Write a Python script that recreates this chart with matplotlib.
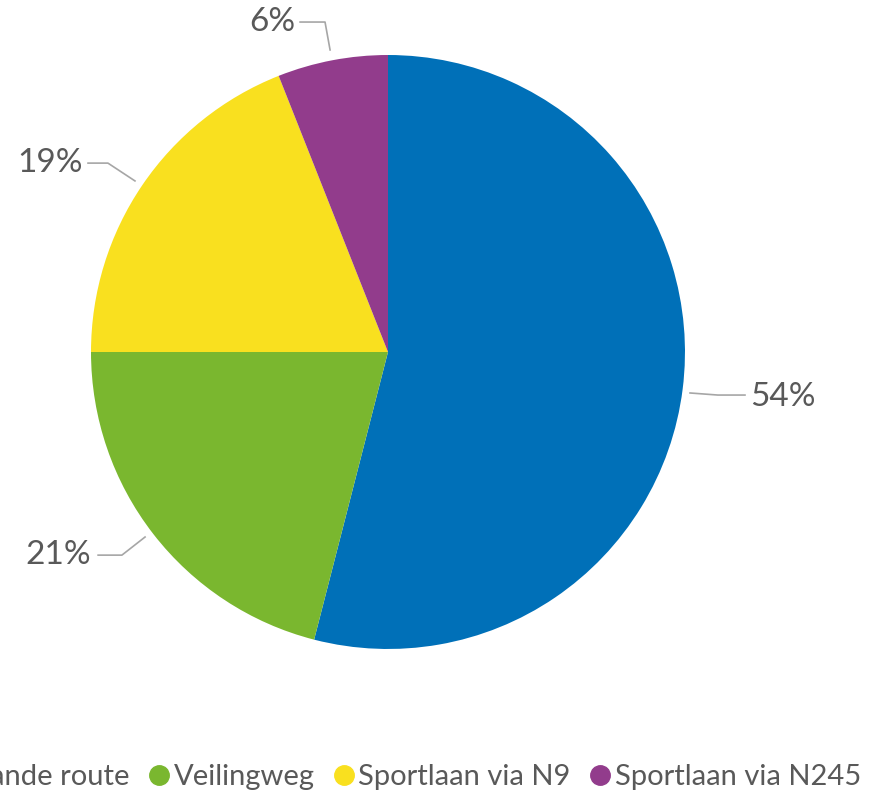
import matplotlib
matplotlib.use("Agg")
import matplotlib.pyplot as plt
from matplotlib.lines import Line2D

categories = ["Bestaande route", "Veilingweg", "Sportlaan via N9", "Sportlaan via N245"]
values = [54, 21, 19, 6]
colors = ["#0070B8", "#7AB72F", "#F9E01F", "#923C8C"]

# label placement (in pie-radius units): text position and leader polyline
label_pos = [(1.33, -0.152), (-1.111, -0.684), (-1.138, 0.636), (-0.391, 1.111)]
leaders = [
    [(1.017, -0.138), (1.111, -0.145), (1.202, -0.145)],
    [(-0.818, -0.623), (-0.896, -0.684), (-0.976, -0.684)],
    [(-0.852, 0.576), (-0.943, 0.636), (-1.010, 0.636)],
    [(-0.195, 1.017), (-0.212, 1.111), (-0.296, 1.111)],
]

plt.rcParams['font.family'] = ['Lato', 'DejaVu Sans']
text_color = "#595959"

fig = plt.figure(figsize=(8.8, 7.96), dpi=100)
ax = fig.add_axes([0.1034, 0.1847, 0.675, 0.7462])
wedges, _ = ax.pie(values, colors=colors, startangle=90, counterclock=False,
                   wedgeprops=dict(linewidth=0))
ax.set_xlim(-1, 1)
ax.set_ylim(-1, 1)
ax.set_aspect('equal')
ax.axis('off')

for v, (tx, ty), pts in zip(values, label_pos, leaders):
    xs = [p[0] for p in pts]
    ys = [p[1] for p in pts]
    ax.add_line(Line2D(xs, ys, color="#A6A6A6", lw=1.2, clip_on=False))
    ax.text(tx, ty, f"{v}%", ha='center', va='center', fontsize=24,
            color=text_color, fontweight='normal', clip_on=False)

handles = [Line2D([0], [0], marker='o', linestyle='none', markersize=14,
                  markerfacecolor=c, markeredgecolor=c) for c in colors]
fig.legend(handles, categories, loc='center right', bbox_to_anchor=(1.008, 0.024),
           ncol=4, frameon=False, labelcolor=text_color,
           handletextpad=0.0, columnspacing=0.5, handlelength=1.0,
           prop=dict(weight='normal', size=21))

fig.savefig("out.png", dpi=100)
